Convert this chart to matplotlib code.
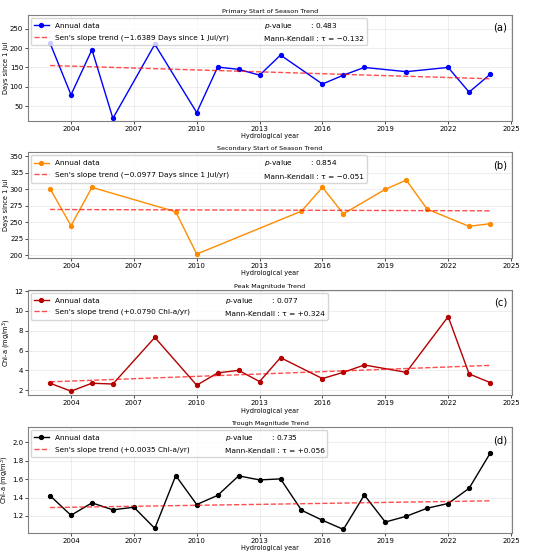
#!/usr/bin/env python3

"""
Seasonal phenology trends: annual data with Sen's slope lines.
"""

import matplotlib
matplotlib.use("Agg")
import matplotlib.pyplot as plt
from matplotlib.lines import Line2D


# Primary start of season
years_a = [2003, 2004, 2005, 2006, 2008, 2010, 2011, 2012, 2013, 2014,
           2016, 2017, 2018, 2020, 2022, 2023, 2024]
values_a = [213, 79, 196, 18, 210, 33, 151, 145, 130, 182,
            107, 130, 150, 139, 150, 86, 132]
trend_a = [155.0, 120.6]

# Secondary start of season
years_b = [2003, 2004, 2005, 2009, 2010, 2015, 2016, 2017, 2019, 2020,
           2021, 2023, 2024]
values_b = [301, 245, 303, 266, 202, 267, 303, 263, 300, 314,
            270, 244, 248]
trend_b = [269.5, 267.5]

# Peak magnitude
years_c = [2003, 2004, 2005, 2006, 2008, 2010, 2011, 2012, 2013, 2014,
           2016, 2017, 2018, 2020, 2022, 2023, 2024]
values_c = [2.70, 1.90, 2.70, 2.62, 7.32, 2.50, 3.74, 4.00, 2.87, 5.28,
            3.17, 3.80, 4.54, 3.80, 9.42, 3.64, 2.77]
trend_c = [2.84, 4.50]

# Trough magnitude
years_d = list(range(2003, 2025))
values_d = [1.420, 1.207, 1.342, 1.266, 1.295, 1.065, 1.638, 1.324, 1.423,
            1.635, 1.591, 1.602, 1.262, 1.153, 1.054, 1.427, 1.134, 1.196,
            1.284, 1.335, 1.500, 1.879]
trend_d = [1.291, 1.364]

panels = [
    dict(years=years_a, values=values_a, trend=trend_a, color="#0000ff",
         title="Primary Start of Season Trend", ylabel="Days since 1 Jul",
         slope="\u22121.6389 Days since 1 Jul/yr", p="0.483",
         tau="\u22120.132", tag="(a)", ylim=(12, 286)),
    dict(years=years_b, values=values_b, trend=trend_b, color="#ff8c00",
         title="Secondary Start of Season Trend", ylabel="Days since 1 Jul",
         slope="\u22120.0977 Days since 1 Jul/yr", p="0.854",
         tau="\u22120.051", tag="(b)", ylim=(196, 356)),
    dict(years=years_c, values=values_c, trend=trend_c, color="#b40000",
         title="Peak Magnitude Trend", ylabel="Chl-a (mg/m$^3$)",
         slope="+0.0790 Chl-a/yr", p="0.077",
         tau="+0.324", tag="(c)", ylim=(1.47, 12.13)),
    dict(years=years_d, values=values_d, trend=trend_d, color="black",
         title="Trough Magnitude Trend", ylabel="Chl-a (mg/m$^3$)",
         slope="+0.0035 Chl-a/yr", p="0.735",
         tau="+0.056", tag="(d)", ylim=(1.017, 2.164)),
]

fig, axes = plt.subplots(4, 1, figsize=(5.5, 5.55), dpi=100)
fig.subplots_adjust(left=0.051, right=0.931, top=0.973, bottom=0.040,
                    hspace=0.30)

for ax, p in zip(axes, panels):
    ax.plot(p["years"], p["values"], color=p["color"], marker="o",
            markersize=2.8, linewidth=1.0, label="Annual data")
    ax.plot([p["years"][0], p["years"][-1]], p["trend"], color="red",
            linestyle="--", linewidth=1.0, alpha=0.7,
            label=f"Sen's slope trend ({p['slope']})")

    blank = Line2D([], [], linestyle="none")
    handles, labels = ax.get_legend_handles_labels()
    handles += [blank, blank]
    labels += [f"$p$-value        : {p['p']}",
               f"Mann-Kendall : \u03c4 = {p['tau']}"]
    ax.legend(handles, labels, loc="upper left", ncol=2, fontsize=5.3,
              framealpha=0.8, borderaxespad=0.4, labelspacing=0.7)

    ax.text(0.99, 0.925, p["tag"], transform=ax.transAxes, ha="right",
            va="top", fontsize=7.2)

    ax.set_title(p["title"], fontsize=4.6, pad=1.5)
    ax.set_ylabel(p["ylabel"], fontsize=4.8, labelpad=0.5)
    ax.set_xlabel("Hydrological year", fontsize=4.7, labelpad=1)
    ax.set_xticks([2004, 2007, 2010, 2013, 2016, 2019, 2022, 2025])
    ax.set_xlim(2001.95, 2025.05)
    ax.set_ylim(*p["ylim"])
    ax.tick_params(labelsize=5, length=2, pad=1.5, width=0.5)
    ax.grid(True, alpha=0.3, linewidth=0.5)
    for spine in ax.spines.values():
        spine.set_color("gray")
        spine.set_linewidth(0.8)

fig.savefig("out.png", dpi=100)
plt.close(fig)
